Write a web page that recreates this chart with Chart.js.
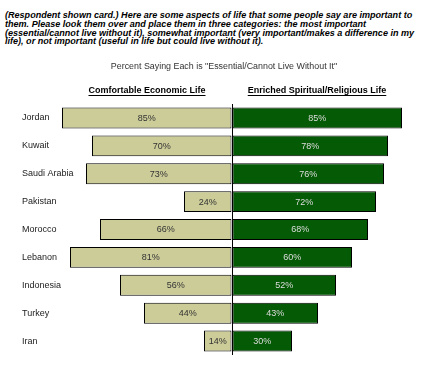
<!DOCTYPE html>
<html>
<head>
<meta charset="utf-8">
<script src="https://cdn.jsdelivr.net/npm/chart.js@4.4.0/dist/chart.umd.min.js"></script>
<style>
  body { margin: 0; background: #fff; }
  #wrap { position: relative; width: 440px; height: 370px; }
  #note {
    position: absolute; left: 5px; top: 11px; width: 435px; white-space: nowrap;
    font: italic bold 9.05px Arial, "Liberation Sans", sans-serif;
    line-height: 8.8px; color: #000;
  }
  canvas { position: absolute; left: 0; top: 0; }
</style>
</head>
<body>
<div id="wrap">
  <div id="note">(Respondent shown card.) Here are some aspects of life that some people say are important to<br>them. Please look them over and place them in three categories: the most important<br>(essential/cannot live without it), somewhat important (very important/makes a difference in my<br>life), or not important (useful in life but could live without it).</div>
  <canvas id="lifeChart" width="440" height="370"></canvas>
</div>
<script>
const countries = ['Jordan', 'Kuwait', 'Saudi Arabia', 'Pakistan', 'Morocco', 'Lebanon', 'Indonesia', 'Turkey', 'Iran'];
const economicLife = [85, 70, 73, 24, 66, 81, 56, 44, 14];
const spiritualLife = [85, 78, 76, 72, 68, 60, 52, 43, 30];
const headers = ['Comfortable Economic Life', 'Enriched Spiritual/Religious Life'];
const subtitle = 'Percent Saying Each is "Essential/Cannot Live Without It"';

const FONT = 'Arial, "Liberation Sans", sans-serif';

// headings, subtitle, country names and the % labels inside the bars
const textPlugin = {
    id: 'textPlugin',
    afterDatasetsDraw(chart) {
        const c = chart.ctx;
        const x = chart.scales.x;
        const y = chart.scales.y;
        c.save();
        c.textBaseline = 'middle';
        c.textAlign = 'center';

        c.font = '8.9px ' + FONT;
        c.fillStyle = '#333';
        c.fillText(subtitle, 224, 67);

        c.font = 'bold 9px ' + FONT;
        c.fillStyle = '#000';
        const hx = [x.getPixelForValue(-42.5), x.getPixelForValue(42.5)];
        headers.forEach((h, i) => {
            c.fillText(h, hx[i], 91);
            const w = c.measureText(h).width;
            c.fillRect(hx[i] - w / 2, 95, w, 1);
        });

        c.font = '9px ' + FONT;
        c.textAlign = 'left';
        c.fillStyle = '#222';
        countries.forEach((name, i) => {
            c.fillText(name, 22, y.getPixelForValue(i));
        });

        c.textAlign = 'center';
        chart.data.datasets.forEach((ds, di) => {
            const meta = chart.getDatasetMeta(di);
            meta.data.forEach((bar, i) => {
                const v = di === 0 ? economicLife[i] : spiritualLife[i];
                c.fillStyle = di === 0 ? '#333' : '#ddd';
                c.fillText(v + '%', (bar.x + bar.base) / 2, bar.y + 0.5);
            });
        });
        c.restore();
    }
};

new Chart(document.getElementById('lifeChart'), {
    type: 'bar',
    data: {
        labels: countries,
        datasets: [
            {
                label: headers[0],
                data: economicLife.map(v => -v),
                backgroundColor: '#CCCC99',
                borderColor: '#000',
                borderWidth: 1,
                borderSkipped: false
            },
            {
                label: headers[1],
                data: spiritualLife,
                backgroundColor: '#055A05',
                borderColor: '#000',
                borderWidth: 1,
                borderSkipped: false
            }
        ]
    },
    options: {
        indexAxis: 'y',
        responsive: false,
        animation: false,
        layout: { padding: { left: 62, right: 38, top: 104, bottom: 15 } },
        plugins: {
            legend: { display: false },
            tooltip: { enabled: false }
        },
        datasets: {
            bar: { categoryPercentage: 1, barPercentage: 0.75 }
        },
        scales: {
            x: {
                stacked: true,
                min: -85,
                max: 85,
                ticks: { display: false, stepSize: 85 },
                border: { display: false },
                grid: {
                    drawTicks: false,
                    color: ctx => ctx.tick && ctx.tick.value === 0 ? '#000' : 'rgba(0,0,0,0)',
                    lineWidth: 1
                }
            },
            y: {
                stacked: true,
                display: false
            }
        }
    },
    plugins: [textPlugin]
});
</script>
</body>
</html>
